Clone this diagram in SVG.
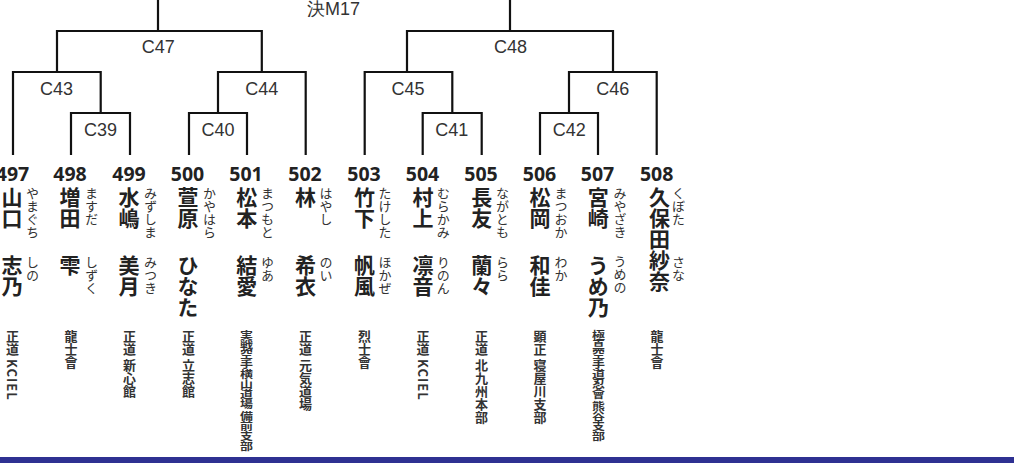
<svg xmlns="http://www.w3.org/2000/svg" width="1014" height="463" viewBox="0 0 1014 463">
<style>
.ln{fill:none;stroke:#111;stroke-width:2.2;stroke-linecap:square}
.lab{font-family:"Liberation Sans",Arial,sans-serif;font-size:18px;fill:#333;text-anchor:middle}
.num{font-family:"Noto Sans","Noto Sans CJK JP",sans-serif;font-weight:700;font-size:19.5px;fill:#222;text-anchor:middle}
.nm{font-family:"Noto Sans CJK JP",sans-serif;font-weight:700;font-size:21px;fill:#222;writing-mode:vertical-rl}
.fu{font-family:"Noto Sans CJK JP",sans-serif;font-weight:400;font-size:13px;fill:#333;writing-mode:vertical-rl}
.af{font-family:"Noto Sans CJK JP",sans-serif;font-weight:700;font-size:13px;fill:#333;writing-mode:vertical-rl}
</style>
<rect width="1014" height="463" fill="#fff"/>
<g id="connectors">
<path class="ln" d="M158,0V31M510,0V31"/>
<path class="ln" d="M57,72V31H261.8V72"/>
<path class="ln" d="M407,72V31H613V72"/>
<path class="ln" d="M13,154V72H100.7V113"/>
<path class="ln" d="M71,154V113H130V154"/>
<path class="ln" d="M218,113V72H305.7V154"/>
<path class="ln" d="M189,154V113H247V154"/>
<path class="ln" d="M364.7,154V72H452.3V113"/>
<path class="ln" d="M422.7,154V113H481.7V154"/>
<path class="ln" d="M569,113V72H656.7V154"/>
<path class="ln" d="M540,154V113H598V154"/>
</g>
<g id="final"><text class="lab" x="333.5" y="14.5">決M17</text></g>
<g id="C47"><text class="lab" x="158.3" y="53">C47</text></g>
<g id="C48"><text class="lab" x="510.5" y="53">C48</text></g>
<g id="C43"><text class="lab" x="56.5" y="95">C43</text></g>
<g id="C44"><text class="lab" x="261.7" y="95">C44</text></g>
<g id="C45"><text class="lab" x="408" y="95">C45</text></g>
<g id="C46"><text class="lab" x="612.8" y="95">C46</text></g>
<g id="C39"><text class="lab" x="100.5" y="136">C39</text></g>
<g id="C40"><text class="lab" x="218" y="136">C40</text></g>
<g id="C41"><text class="lab" x="451.7" y="136">C41</text></g>
<g id="C42"><text class="lab" x="569.2" y="136">C42</text></g>

<g id="p497"><text class="num" x="12.5" y="180.7">497</text>
<text class="nm" x="12" y="186.5">山口</text><text class="fu" x="32.5" y="187">やまぐち</text>
<text class="nm" x="12" y="255">志乃</text><text class="fu" x="32.5" y="255.5">しの</text>
<text class="af" x="12.5" y="330">正道 <tspan letter-spacing="1">KCIEL</tspan></text></g>

<g id="p498"><text class="num" x="70" y="180.7">498</text>
<text class="nm" x="70" y="186.5">増田</text><text class="fu" x="91.5" y="187">ますだ</text>
<text class="nm" x="70" y="255">雫</text><text class="fu" x="91.5" y="255.5">しずく</text>
<text class="af" x="71" y="330">龍士會</text></g>

<g id="p499"><text class="num" x="129" y="180.7">499</text>
<text class="nm" x="129" y="186.5">水嶋</text><text class="fu" x="150.5" y="187">みずしま</text>
<text class="nm" x="129" y="255">美月</text><text class="fu" x="150.5" y="255.5">みつき</text>
<text class="af" x="129.5" y="330">正道 新心館</text></g>

<g id="p500"><text class="num" x="187.5" y="180.7">500</text>
<text class="nm" x="188" y="186.5">萱原</text><text class="fu" x="209.5" y="187">かやはら</text>
<text class="nm" x="188" y="255">ひなた</text>
<text class="af" x="188.5" y="330">正道 立志館</text></g>

<g id="p501"><text class="num" x="246" y="180.7">501</text>
<text class="nm" x="246.7" y="186.5">松本</text><text class="fu" x="267.5" y="187">まつもと</text>
<text class="nm" x="246.7" y="255">結愛</text><text class="fu" x="267.5" y="255.5">ゆあ</text>
<text class="af" transform="translate(246.5,330) scale(1,0.76)" x="0" y="0">実戦空手横山道場 備前支部</text></g>

<g id="p502"><text class="num" x="305" y="180.7">502</text>
<text class="nm" x="305.5" y="186.5">林</text><text class="fu" x="326" y="187">はやし</text>
<text class="nm" x="305.5" y="255">希衣</text><text class="fu" x="326" y="255.5">のい</text>
<text class="af" x="305.5" y="330">正道 元気道場</text></g>

<g id="p503"><text class="num" x="364" y="180.7">503</text>
<text class="nm" x="364.5" y="186.5">竹下</text><text class="fu" x="385" y="187">たけした</text>
<text class="nm" x="364.5" y="255">帆風</text><text class="fu" x="385" y="255.5">ほかぜ</text>
<text class="af" x="364.5" y="330">烈士會</text></g>

<g id="p504"><text class="num" x="422.5" y="180.7">504</text>
<text class="nm" x="423" y="186.5">村上</text><text class="fu" x="443.3" y="187">むらかみ</text>
<text class="nm" x="423" y="255">凛音</text><text class="fu" x="443.3" y="255.5">りのん</text>
<text class="af" x="423" y="330">正道 <tspan letter-spacing="1">KCIEL</tspan></text></g>

<g id="p505"><text class="num" x="481" y="180.7">505</text>
<text class="nm" x="481.7" y="186.5">長友</text><text class="fu" x="502.5" y="187">ながとも</text>
<text class="nm" x="481.7" y="255">蘭々</text><text class="fu" x="502.5" y="255.5">らら</text>
<text class="af" x="481.5" y="330">正道 北九州本部</text></g>

<g id="p506"><text class="num" x="539.5" y="180.7">506</text>
<text class="nm" x="540" y="186.5">松岡</text><text class="fu" x="561" y="187">まつおか</text>
<text class="nm" x="540" y="255">和佳</text><text class="fu" x="561" y="255.5">わか</text>
<text class="af" x="540" y="330">顕正 寝屋川支部</text></g>

<g id="p507"><text class="num" x="597.5" y="180.7">507</text>
<text class="nm" x="598.3" y="186.5">宮崎</text><text class="fu" x="620" y="187">みやざき</text>
<text class="nm" x="598.3" y="255">うめ乃</text><text class="fu" x="620" y="254.5">うめの</text>
<text class="af" transform="translate(598.5,330) scale(1,0.76)" x="0" y="0">極真空手道忍會 熊谷支部</text></g>

<g id="p508"><text class="num" x="656.7" y="180.7">508</text>
<text class="nm" x="659.5" y="186.5">久保田紗奈</text><text class="fu" x="678.5" y="187">くぼた</text>
<text class="fu" x="678.5" y="255.5">さな</text>
<text class="af" x="657" y="330">龍士會</text></g>

<rect id="bar" x="0" y="457" width="1014" height="6" fill="#2e3192"/>
</svg>
